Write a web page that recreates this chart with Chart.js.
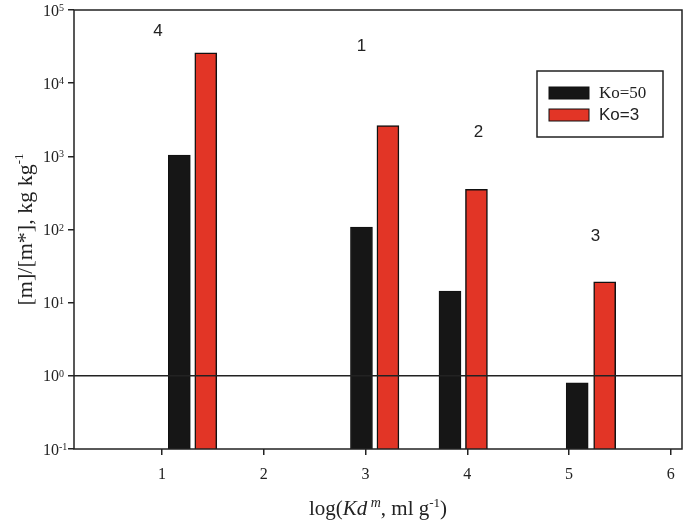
<!DOCTYPE html>
<html>
<head>
<meta charset="utf-8">
<script src="https://cdn.jsdelivr.net/npm/chart.js@4.4.0/dist/chart.umd.min.js"></script>
<style>
  html, body { margin: 0; padding: 0; background: #fff; }
  #wrap { width: 685px; height: 522px; }
</style>
</head>
<body>
<div id="wrap"><canvas id="c"></canvas></div>
<script>
// values
var seriesNames = ['Ko=50', 'Ko=3'];
var blackX = [1.17, 2.96, 3.83, 5.08];
var blackY = [1040, 108, 14.4, 0.80];
var redX = [1.43, 3.22, 4.09, 5.35];
var redY = [25900, 2640, 353, 19.3];
var groupLabels = ['4', '1', '2', '3'];
var groupLabelX = [0.96, 2.96, 4.11, 5.26];
var groupLabelY = [51000, 32000, 2140, 81];
var xTicks = [1, 2, 3, 4, 5, 6];
var yExponents = [-1, 0, 1, 2, 3, 4, 5];
var refLine = 1;
var xMin = 0.135, xMax = 6.11;

var serif = '"Liberation Serif", "Times New Roman", serif';
var sans = '"Liberation Sans", Arial, sans-serif';
var ink = '#222';

function pts(xs, ys) {
  return xs.map(function(x, i) { return {x: x, y: ys[i]}; });
}

// frame, tick labels with superscripts, titles, group numbers, legend
var decor = {
  id: 'decor',
  afterDraw: function(chart) {
    var ctx = chart.ctx, a = chart.chartArea;
    var xs = chart.scales.x, ys = chart.scales.y;
    ctx.save();
    ctx.strokeStyle = ink;
    ctx.lineWidth = 1.5;
    ctx.strokeRect(a.left, a.top, a.right - a.left, a.bottom - a.top);

    ctx.fillStyle = ink;
    ctx.textAlign = 'left';
    ctx.textBaseline = 'alphabetic';
    yExponents.forEach(function(e) {
      var py = ys.getPixelForValue(Math.pow(10, e));
      ctx.font = '16px ' + serif;
      ctx.fillText('10', a.left - 31, py + 5.5);
      var w = ctx.measureText('10').width;
      ctx.font = '10px ' + serif;
      ctx.fillText(String(e), a.left - 31 + w, py + 1);
    });

    // group numbers
    ctx.font = '17px ' + sans;
    ctx.textAlign = 'center';
    ctx.textBaseline = 'middle';
    groupLabels.forEach(function(t, i) {
      ctx.fillText(t, xs.getPixelForValue(groupLabelX[i]), ys.getPixelForValue(groupLabelY[i]));
    });

    // x title: log(Kd^m, ml g^-1)
    var parts = [
      ['log(', '21px ' + serif, 0],
      ['Kd', 'italic 21px ' + serif, 0],
      [' m', 'italic 14px ' + serif, -8],
      [', ml g', '21px ' + serif, 0],
      ['-1', '13px ' + serif, -8],
      [')', '21px ' + serif, 0]
    ];
    drawParts(ctx, parts, (a.left + a.right) / 2, 515, 0);

    // y title
    var yparts = [
      ['[m]/[m*], kg kg', '22px ' + serif, 0],
      ['-1', '13px ' + serif, -9]
    ];
    drawParts(ctx, yparts, 32, (a.top + a.bottom) / 2, -Math.PI / 2);

    // legend
    var bx = a.right - 145, by = a.top + 61, bw = 126, bh = 66;
    ctx.lineWidth = 1.5;
    ctx.strokeStyle = ink;
    ctx.strokeRect(bx, by, bw, bh);
    var fonts = [serif, sans];
    chart.data.datasets.forEach(function(ds, i) {
      if (ds.type === 'line') return;
      var sy = by + 16 + i * 22;
      ctx.fillStyle = ds.backgroundColor;
      ctx.fillRect(bx + 12, sy, 40, 12);
      ctx.lineWidth = 1;
      ctx.strokeStyle = '#111';
      ctx.strokeRect(bx + 12, sy, 40, 12);
      ctx.fillStyle = ink;
      ctx.font = '17px ' + fonts[i];
      ctx.textAlign = 'left';
      ctx.textBaseline = 'middle';
      ctx.fillText(ds.label, bx + 62, sy + 6.5);
    });
    ctx.restore();
  }
};

function drawParts(ctx, parts, cx, cy, rot) {
  var total = 0;
  parts.forEach(function(p) { ctx.font = p[1]; total += ctx.measureText(p[0]).width; });
  ctx.save();
  ctx.translate(cx, cy);
  ctx.rotate(rot);
  ctx.textAlign = 'left';
  ctx.textBaseline = 'alphabetic';
  ctx.fillStyle = ink;
  var x = -total / 2;
  parts.forEach(function(p) {
    ctx.font = p[1];
    ctx.fillText(p[0], x, p[2]);
    x += ctx.measureText(p[0]).width;
  });
  ctx.restore();
}

var config = {
  type: 'bar',
  data: {
    datasets: [{
      label: seriesNames[0],
      data: pts(blackX, blackY),
      backgroundColor: '#161616',
      borderColor: '#111',
      borderWidth: 1,
      order: 1
    }, {
      label: seriesNames[1],
      data: pts(redX, redY),
      backgroundColor: '#e23526',
      borderColor: '#111',
      borderWidth: 1.5,
      order: 1
    }, {
      type: 'line',
      label: 'ref',
      data: [{x: xMin, y: refLine}, {x: xMax, y: refLine}],
      borderColor: ink,
      borderWidth: 1.5,
      pointRadius: 0,
      order: 0
    }]
  },
  options: {
    responsive: true,
    maintainAspectRatio: false,
    animation: false,
    grouped: false,
    maxBarThickness: 22,
    barPercentage: 1,
    categoryPercentage: 1,
    layout: { padding: { left: 0, right: 3, top: 10, bottom: 0 } },
    plugins: { legend: { display: false }, tooltip: { enabled: false } },
    scales: {
      x: {
        type: 'linear',
        min: xMin,
        max: xMax,
        offset: false,
        afterBuildTicks: function(s) { s.ticks = xTicks.map(function(v) { return {value: v}; }); },
        afterFit: function(s) { s.height = 73; },
        grid: { offset: false, drawOnChartArea: false, drawTicks: true, tickLength: 6, color: ink, lineWidth: 1.5 },
        border: { display: false },
        ticks: { font: { family: serif, size: 16 }, color: ink, padding: 10, maxRotation: 0 }
      },
      y: {
        type: 'logarithmic',
        min: 0.1,
        max: 100000,
        afterBuildTicks: function(s) { s.ticks = yExponents.map(function(e) { return {value: Math.pow(10, e)}; }); },
        afterFit: function(s) { s.width = 74; },
        grid: { drawOnChartArea: false, drawTicks: true, tickLength: 6, color: ink, lineWidth: 1.5 },
        border: { display: false },
        ticks: { display: false }
      }
    }
  },
  plugins: [decor]
};

var chart = new Chart(document.getElementById('c'), config);
</script>
</body>
</html>
